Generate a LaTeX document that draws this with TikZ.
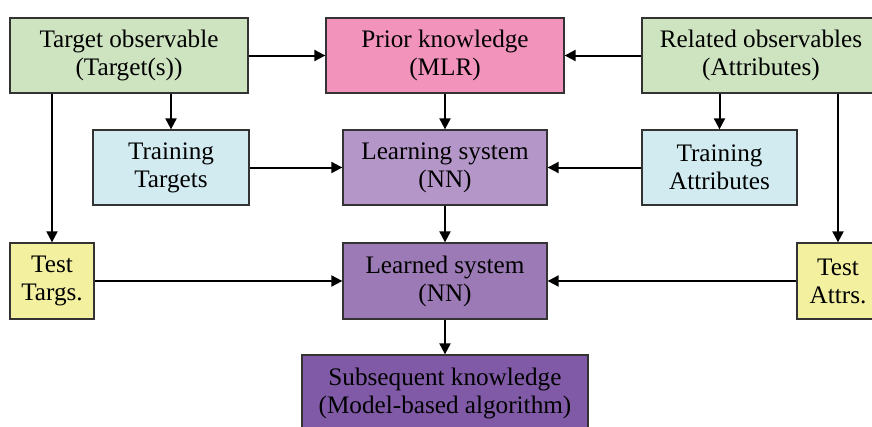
\documentclass[tikz,border=0pt]{standalone}
\usepackage{fontspec}
\setmainfont{Liberation Serif}
\usetikzlibrary{arrows.meta}
\definecolor{cgreen}{RGB}{206,228,193}
\definecolor{cpink}{RGB}{242,147,188}
\definecolor{cblue}{RGB}{209,235,240}
\definecolor{cpurA}{RGB}{180,150,200}
\definecolor{cpurB}{RGB}{155,122,181}
\definecolor{cpurC}{RGB}{128,90,166}
\definecolor{cyel}{RGB}{243,240,160}
\tikzset{
  box/.style={draw=black!80, line width=1.3pt, align=center, inner sep=0pt,
    font=\fontsize{25.2}{28}\selectfont},
  conn/.style={line width=2pt, -{Triangle[length=11pt,width=11pt]}},
}
\begin{document}
\begin{tikzpicture}[x=1pt,y=-1pt]
\clip (0,0) rectangle (872,426);
\fill[white] (0,0) rectangle (872,426);
\node[box, fill=cgreen, minimum width=238pt, minimum height=75pt] (tobs) at (129,55.5) {Target observable\\(Target(s))};
\node[box, fill=cpink, minimum width=238pt, minimum height=75pt] (prior) at (445,55.5) {Prior knowledge\\(MLR)};
\node[box, fill=cgreen, minimum width=238pt, minimum height=75pt] (robs) at (761,55.5) {Related observables\\(Attributes)};
\node[box, fill=cblue, minimum width=156pt, minimum height=75pt] (trt) at (171,167.5) {Training\\Targets};
\node[box, fill=cpurA, minimum width=204pt, minimum height=75pt] (lsys) at (445,167.5) {Learning system\\(NN)};
\node[box, fill=cblue, minimum width=155pt, minimum height=75pt] (tra) at (719.5,167.5) {Training\\Attributes};
\node[box, fill=cyel, minimum width=84pt, minimum height=76pt] (tst) at (52,281) {Test\\Targs.};
\node[box, fill=cpurB, minimum width=204pt, minimum height=76pt] (lrd) at (445,281) {Learned system\\(NN)};
\node[box, fill=cyel, minimum width=82pt, minimum height=76pt] (tsa) at (838,281) {Test\\Attrs.};
\node[box, fill=cpurC, minimum width=286pt, minimum height=76pt] (sub) at (445,393) {Subsequent knowledge\\(Model-based algorithm)};

\draw[conn] (tobs) -- (prior);
\draw[conn] (robs) -- (prior);
\draw[conn] (trt.north |- tobs.south) -- (trt.north);
\draw[conn] (prior) -- (lsys);
\draw[conn] (tra.north |- robs.south) -- (tra.north);
\draw[conn] (trt) -- (lsys);
\draw[conn] (tra) -- (lsys);
\draw[conn] (tst.north |- tobs.south) -- (tst.north);
\draw[conn] (tsa.north |- robs.south) -- (tsa.north);
\draw[conn] (lsys) -- (lrd);
\draw[conn] (tst) -- (lrd);
\draw[conn] (tsa) -- (lrd);
\draw[conn] (lrd) -- (sub);
\end{tikzpicture}
\end{document}
